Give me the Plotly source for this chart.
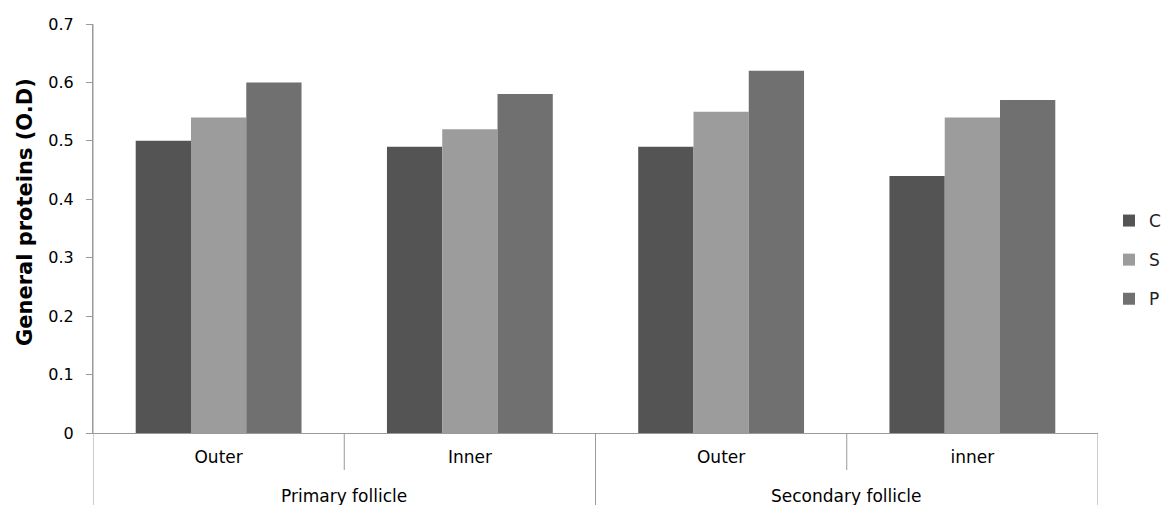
import plotly.graph_objects as go

groups = ["Primary follicle", "Secondary follicle"]
sub_labels = ["Outer", "Inner", "Outer", "inner"]
series_names = ["C", "S", "P"]
C_values = [0.50, 0.49, 0.49, 0.44]
S_values = [0.54, 0.52, 0.55, 0.54]
P_values = [0.60, 0.58, 0.62, 0.57]
y_ticks = [0, 0.1, 0.2, 0.3, 0.4, 0.5, 0.6, 0.7]
y_tick_text = ["0", "0.1", "0.2", "0.3", "0.4", "0.5", "0.6", "0.7"]
y_title = "General proteins (O.D)"

colors = ["#545454", "#9c9c9c", "#707070"]
values = [C_values, S_values, P_values]
x_pos = list(range(len(sub_labels)))

FONT = "DejaVu Sans, Verdana, sans-serif"

fig = go.Figure()
for name, vals, col in zip(series_names, values, colors):
    fig.add_trace(go.Bar(
        x=x_pos, y=vals, name=name, legendgroup=name,
        marker=dict(color=col, line=dict(width=0)),
    ))

# page has an 8px body margin; figure occupies page pixels 8..1169 x 8..505
OFF = 8
W, H = 1169 - OFF, 505 - OFF
PLOT_L, PLOT_R, PLOT_T, PLOT_B = 93, 1098, 24, 433   # page pixels
ml, mt = PLOT_L - OFF, PLOT_T - OFF
mr = W - (PLOT_R - OFF)
mb = H - (PLOT_B - OFF)
ph = PLOT_B - PLOT_T
pw = PLOT_R - PLOT_L

def py(pix):
    return (PLOT_B - pix) / ph

def px(pix):
    return (pix - PLOT_L) / pw

shapes = []
axis_col = "#9a9a9a"
shapes.append(dict(type="line", xref="x", yref="paper", x0=-0.5, x1=-0.5,
                   y0=1, y1=py(506), line=dict(color=axis_col, width=1)))
for xb, bottom in [(0.5, 470), (1.5, 506), (2.5, 470), (3.5, 506)]:
    shapes.append(dict(type="line", xref="x", yref="paper", x0=xb, x1=xb,
                       y0=0, y1=py(bottom), line=dict(color=axis_col, width=1)))

annotations = []
for gi, g in enumerate(groups):
    annotations.append(dict(text=g, x=gi * 2 + 0.5, xref="x", y=py(496), yref="paper",
                            showarrow=False, yanchor="middle",
                            font=dict(family=FONT, size=17, color="#000")))
annotations.append(dict(text="<b>" + y_title + "</b>", textangle=-90,
                        x=px(25), xref="paper", y=py(212), yref="paper",
                        xanchor="center", yanchor="middle", showarrow=False,
                        font=dict(family=FONT, size=21, color="#000")))

fig.update_layout(
    width=W, height=H,
    margin=dict(l=ml, r=mr, t=mt, b=mb, autoexpand=False),
    plot_bgcolor="white", paper_bgcolor="white",
    barmode="group", bargap=0.34, bargroupgap=0,
    font=dict(family=FONT, size=16, color="#000"),
    shapes=shapes, annotations=annotations,
    legend=dict(x=px(1109), xanchor="left", y=py(260), yanchor="middle",
                tracegroupgap=14, font=dict(size=17, color="#222"),
                itemwidth=30),
    xaxis=dict(range=[-0.5, 3.5], tickvals=x_pos, ticktext=sub_labels,
               showline=True, linecolor=axis_col, linewidth=1,
               ticks="outside", ticklen=9, tickcolor="rgba(0,0,0,0)",
               showgrid=False, zeroline=False,
               tickfont=dict(size=17), fixedrange=True, automargin=False),
    yaxis=dict(range=[0, 0.7], tickvals=y_ticks, ticktext=y_tick_text,
               showline=True, linecolor=axis_col, linewidth=1,
               ticks="outside", ticklen=6, tickcolor=axis_col,
               ticklabelstandoff=9,
               showgrid=False, zeroline=False, tickfont=dict(size=16),
               automargin=False),
)

fig.write_html("out.html")
